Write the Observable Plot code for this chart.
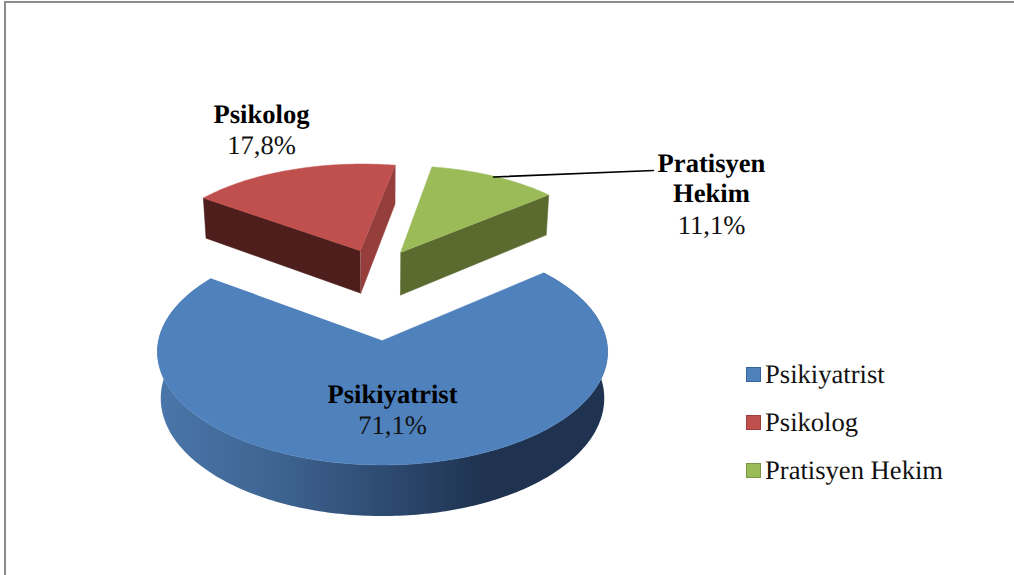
<!DOCTYPE html>
<html>
<head>
<meta charset="utf-8">
<script src="https://cdn.jsdelivr.net/npm/d3@7"></script>
<script src="https://cdn.jsdelivr.net/npm/@observablehq/plot@0.6"></script>
<style>
  html, body { margin: 0; padding: 0; background: #fff; }
  #stage { position: relative; width: 1014px; height: 575px; overflow: hidden; font-family: "Liberation Serif", serif; text-rendering: geometricPrecision; }
  #stage svg { display: block; }
  #stage svg text { text-rendering: geometricPrecision; }
  #frame { position: absolute; left: 4px; top: 1px; right: 0; bottom: -4px; border-left: 2px solid #8c8c8c; border-top: 2px solid #8c8c8c; pointer-events: none; }
  .key { position: absolute; left: 765px; font-size: 26.6px; line-height: 30px; color: #111; white-space: nowrap; }
  .sw { position: absolute; left: 746px; width: 13px; height: 13px; border: 1px solid; box-sizing: content-box; }
</style>
</head>
<body>
<div id="stage"></div>
<script>
// Data
const categories = ["Psikiyatrist", "Psikolog", "Pratisyen Hekim"];
const shares = [71.1, 17.8, 11.1];
const shareLabels = ["71,1%", "17,8%", "11,1%"];

// Colours
const topColors = ["#4f81bd", "#c0504d", "#9bbb59"];
const legendEdges = ["#3a659b", "#a03f3c", "#7c9647"];
const wallFront = { red: "#4e1e1c", redSide: "#953e3b", green: "#5b6b2f" };

// Pie view: 3D projection and slice explosion (in pie radii)
const view = { cx: 382, cy: 340, R: 224, k: 112, f: 10, depth: 46, shrink: 0.985, start: 50 };
const explode = [[0, 0], [-0.107, 0.87], [0.087, 0.85]];

function project(X, Y, bottom) {
  const g = view.f / (view.f + Y);
  return {
    x: view.cx + view.R * X * g * (bottom ? view.shrink : 1),
    y: view.cy - view.k * Y * g + (bottom ? view.depth * g : 0)
  };
}

// Angles from the values
const total = d3.sum(shares);
let acc = view.start;
const slices = shares.map((v, i) => {
  const a0 = acc, a1 = acc + v / total * 360;
  acc = a1;
  const [ox, oy] = explode[i];
  const pt = (deg) => {
    const r = deg * Math.PI / 180;
    return [ox + Math.sin(r), oy + Math.cos(r)];
  };
  const steps = d3.range(a0, a1, 1).concat([a1]);
  return { a0, a1, apex: [ox, oy], rimPts: steps.map(pt) };
});

const faceTop = (s) => [project(...s.apex), ...s.rimPts.map(p => project(...p))];
const wall = (a, b) => [project(...a), project(...b), project(...b, true), project(...a, true)];
const rim = (s) => [...s.rimPts.map(p => project(...p)), ...s.rimPts.slice().reverse().map(p => project(...p, true))];

const face = (pts, fill) => Plot.line(pts, { x: "x", y: "y", fill, stroke: fill, strokeWidth: 0.5 });

// Blue rim gradient
const defs = () => {
  const d = d3.create("svg:defs");
  const g = d.append("linearGradient").attr("id", "blueRim").attr("gradientUnits", "userSpaceOnUse")
    .attr("x1", 157).attr("x2", 607).attr("y1", 0).attr("y2", 0);
  [[0, "#4a76aa"], [0.25, "#3f6592"], [0.5, "#2e4b72"], [0.72, "#1f3350"], [1, "#1f3350"]]
    .forEach(([o, c]) => g.append("stop").attr("offset", o).attr("stop-color", c));
  return d.node();
};

const [blue, red, green] = slices;

// Label layout
const labelLayout = [
  { x: 392, ys: [394], vy: 425 },
  { x: 261, ys: [114], vy: 145 },
  { x: 711, ys: [163, 193], vy: 225 }
];
const labelLines = [["Psikiyatrist"], ["Psikolog"], ["Pratisyen", "Hekim"]];
const nameRows = labelLines.flatMap((ls, i) => ls.map((t, j) => ({ t, x: labelLayout[i].x, y: labelLayout[i].ys[j] })));
const valueRows = shareLabels.map((t, i) => ({ t, x: labelLayout[i].x, y: labelLayout[i].vy }));
const leader = [{ x: 493, y: 176.5 }, { x: 653, y: 170 }];

const chart = Plot.plot({
  width: 1014,
  height: 575,
  margin: 0,
  x: { type: "identity", axis: null },
  y: { type: "identity", axis: null },
  style: { background: "transparent" },
  marks: [
    defs,
    Plot.line(rim(blue), { x: "x", y: "y", fill: "url(#blueRim)", stroke: "none" }),
    face(faceTop(blue), topColors[0]),
    face(wall(red.apex, red.rimPts[0]), wallFront.red),
    face(wall(red.apex, red.rimPts[red.rimPts.length - 1]), wallFront.redSide),
    face(faceTop(red), topColors[1]),
    face(wall(green.apex, green.rimPts[green.rimPts.length - 1]), wallFront.green),
    face(faceTop(green), topColors[2]),
    Plot.line(leader, { x: "x", y: "y", stroke: "#000", strokeWidth: 1.6 }),
    Plot.text(nameRows, { x: "x", y: "y", text: "t", fontSize: 26.6, fontWeight: "bold", fontFamily: "Liberation Serif", fill: "#000", textAnchor: "middle", lineAnchor: "middle" }),
    Plot.text(valueRows, { x: "x", y: "y", text: "t", fontSize: 26.6, fontFamily: "Liberation Serif", fill: "#111", textAnchor: "middle", lineAnchor: "middle" })
  ]
});

const stage = document.getElementById("stage");
stage.append(chart);
const frame = document.createElement("div");
frame.id = "frame";
stage.append(frame);

// Legend
const legendTops = [367, 415, 463];
categories.forEach((c, i) => {
  const s = document.createElement("div");
  s.className = "sw";
  s.style.top = legendTops[i] + "px";
  s.style.background = topColors[i];
  s.style.borderColor = legendEdges[i];
  stage.append(s);
  const t = document.createElement("div");
  t.className = "key";
  t.style.top = (legendTops[i] - 8) + "px";
  t.textContent = c;
  stage.append(t);
});
</script>
</body>
</html>
